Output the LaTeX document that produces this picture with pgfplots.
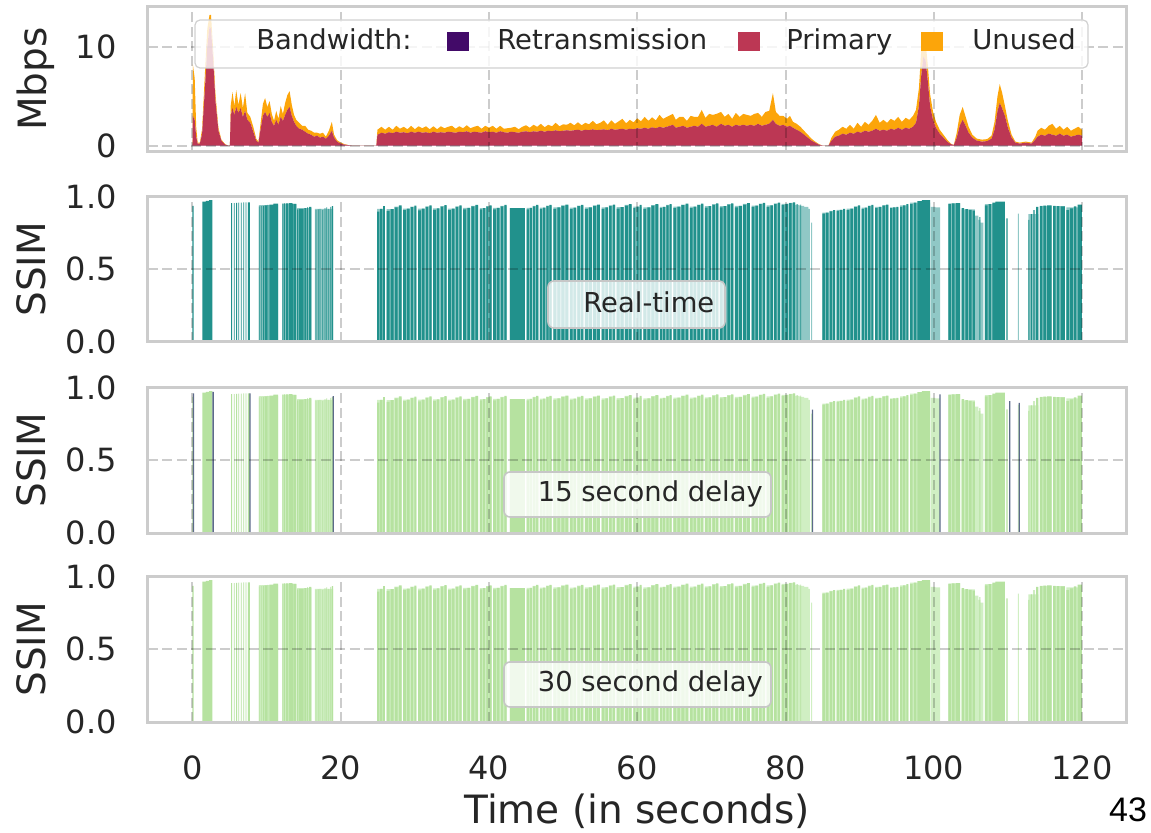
\documentclass[border=0pt]{standalone}
\usepackage{fontspec}
\setmainfont{DejaVu Sans}
\newfontfamily\slidefont{Liberation Sans}
\usepackage{pgfplots}
\usepackage{pgfplotstable}
\pgfplotsset{compat=1.18}

% inferno / viridis samples used by the figure
\definecolor{retx}{HTML}{420A68}
\definecolor{primary}{HTML}{BC3754}
\definecolor{unused}{HTML}{FCA50A}
\definecolor{rtteal}{HTML}{21918C}
\definecolor{rttealL}{RGB}{144,200,198}
\definecolor{dgreen}{RGB}{182,226,160}
\definecolor{dgreenL}{RGB}{208,239,195}
\definecolor{retxline}{RGB}{92,106,138}
\definecolor{txt}{HTML}{262626}
\definecolor{framegray}{HTML}{CCCCCC}

\newcommand\tickfont{\fontsize{16}{19}\selectfont}
\newcommand\labelfont{\fontsize{19.5}{23}\selectfont}
\newcommand\annofont{\fontsize{13.7}{16}\selectfont}

% bandwidth (Mbps): retransmission, primary and unused share
\pgfplotstableread{
t re pr un
0.0 0 0 0
0.05 0 3.0 5.2
0.3 0 2.6 4.2
0.5 0 0.9 1.0
0.7 0 0.2 0.1
1.0 0 0.2 0.1
1.3 0 1.2 0.5
1.7 0 6.0 1.6
2.0 0 10.0 1.8
2.3 0 12.0 1.2
2.5 0 11.8 1.4
2.8 0 8.5 1.0
3.1 0 4.5 0.7
3.5 0 1.5 0.3
3.9 0 0.5 0.1
4.4 0 0.1 0.05
4.8 0 0 0
5.05 0 0 0
5.15 0 3.0 1.0
5.4 0 3.8 1.6
5.65 0 3.1 0.9
5.9 0 3.9 1.7
6.2 0 3.3 0.8
6.5 0 3.8 1.5
6.8 0 2.9 0.9
7.1 0 3.5 1.8
7.4 0 2.6 0.7
7.8 0 2.3 0.6
8.2 0 1.4 0.5
8.6 0 0.5 0.2
8.9 0 0.3 0.1
9.2 0 1.7 0.6
9.5 0 3.0 1.2
9.8 0 3.4 1.4
10.1 0 2.9 1.0
10.4 0 3.3 1.2
10.7 0 2.4 0.8
11.0 0 2.0 0.5
11.3 0 2.6 0.9
11.6 0 2.1 0.6
11.9 0 2.9 1.1
12.2 0 2.5 0.7
12.5 0 3.1 1.2
12.8 0 3.6 1.5
13.1 0 3.9 1.6
13.4 0 3.0 1.1
13.7 0 2.4 0.7
14.0 0 2.0 0.6
14.4 0 1.7 0.6
14.8 0 1.6 0.4
15.2 0 1.4 0.6
15.6 0 1.2 0.4
16.0 0 1.1 0.4
16.4 0 0.9 0.4
16.8 0 1.0 0.3
17.2 0 0.8 0.4
17.6 0 0.9 0.4
18.0 0 0.7 0.2
18.4 0 1.0 0.5
18.8 0 1.5 0.9
19.1 0 0.8 0.3
19.5 0 0.4 0.15
20.0 0 0.2 0.1
20.5 0 0.1 0.05
21.0 0 0.05 0
21.5 0 0 0
24.8 0 0 0
24.95 0 1.1 0.5
25.5 0 1.3 0.6
26.0 0 1.2 0.4
26.5 0 1.35 0.55
27.0 0 1.25 0.35
27.5 0 1.4 0.6
28.0 0 1.3 0.4
28.5 0 1.35 0.55
29.0 0 1.25 0.4
29.5 0 1.4 0.6
30.0 0 1.3 0.35
30.5 0 1.4 0.55
31.0 0 1.3 0.45
31.5 0 1.35 0.6
32.0 0 1.25 0.4
32.5 0 1.4 0.55
33.0 0 1.3 0.35
33.5 0 1.35 0.6
34.0 0 1.3 0.45
34.5 0 1.4 0.5
35.0 0 1.35 0.65
35.5 0 1.3 0.4
36.0 0 1.4 0.55
36.5 0 1.35 0.4
37.0 0 1.45 0.6
37.5 0 1.3 0.45
38.0 0 1.4 0.5
38.5 0 1.35 0.65
39.0 0 1.3 0.4
39.5 0 1.45 0.55
40.0 0 1.35 0.45
40.5 0 1.4 0.6
41.0 0 1.3 0.4
41.5 0 1.45 0.55
42.0 0 1.35 0.35
42.5 0 1.3 0.45
43.0 0 1.4 0.4
43.5 0 1.35 0.55
44.0 0 1.3 0.35
44.5 0 1.4 0.5
45.0 0 1.45 0.6
45.5 0 1.35 0.45
46.0 0 1.45 0.65
46.5 0 1.4 0.5
47.0 0 1.5 0.7
47.5 0 1.4 0.45
48.0 0 1.5 0.6
48.5 0 1.45 0.5
49.0 0 1.55 0.75
49.5 0 1.45 0.5
50.0 0 1.5 0.65
50.5 0 1.55 0.55
51.0 0 1.5 0.8
51.5 0 1.55 0.5
52.0 0 1.6 0.75
52.5 0 1.5 0.55
53.0 0 1.6 0.7
53.5 0 1.55 0.6
54.0 0 1.65 0.85
54.5 0 1.55 0.6
55.0 0 1.6 0.7
55.5 0 1.65 0.9
56.0 0 1.55 0.55
56.5 0 1.7 0.85
57.0 0 1.6 0.6
57.5 0 1.65 0.8
58.0 0 1.7 1.0
58.5 0 1.6 0.65
59.0 0 1.7 0.9
59.5 0 1.65 0.7
60.0 0 1.75 1.0
60.5 0 1.7 0.75
61.0 0 1.8 1.1
61.5 0 1.7 0.8
62.0 0 1.85 1.0
62.5 0 1.75 0.8
63.0 0 1.9 1.2
63.5 0 1.8 0.9
64.0 0 1.9 1.0
64.8 0 2.1 1.1
65.2 0 1.8 0.8
65.7 0 1.9 1.0
66.2 0 2.0 0.9
66.7 0 1.8 0.7
67.2 0 1.9 1.1
67.7 0 2.0 0.9
68.2 0 1.9 1.0
68.7 0 2.2 1.4
69.2 0 1.9 0.9
69.7 0 2.0 1.2
70.2 0 2.1 1.0
70.7 0 1.9 1.3
71.3 0 2.2 1.2
71.8 0 2.0 0.9
72.3 0 2.1 1.1
72.8 0 1.9 0.8
73.3 0 2.1 1.2
73.8 0 2.0 0.9
74.3 0 2.1 1.1
74.8 0 2.0 1.1
75.3 0 2.1 0.9
75.8 0 2.0 1.2
76.3 0 2.2 1.1
76.8 0 2.0 0.9
77.3 0 2.1 1.3
77.8 0 2.2 1.3
78.3 0 2.6 2.7
78.7 0 2.2 1.2
79.2 0 2.0 1.0
79.7 0 2.1 0.9
80.2 0 1.9 0.8
80.6 0 2.0 1.0
81.0 0 1.8 0.6
81.5 0 1.6 0.6
82.0 0 1.4 0.5
82.5 0 1.1 0.4
83.0 0 0.8 0.3
83.5 0 0.5 0.2
84.0 0 0.3 0.1
84.5 0 0.1 0.05
85.0 0 0 0
85.8 0 0 0
86.2 0 0.5 0.3
86.7 0 0.9 0.5
87.2 0 1.0 0.6
87.7 0 1.2 0.7
88.2 0 1.1 0.6
88.7 0 1.3 0.8
89.2 0 1.2 0.5
89.7 0 1.4 0.9
90.2 0 1.3 0.6
90.7 0 1.5 0.9
91.2 0 1.4 0.7
91.7 0 1.5 1.0
92.2 0 1.7 1.4
92.7 0 1.5 0.8
93.2 0 1.6 1.0
93.7 0 1.5 0.8
94.2 0 1.7 1.0
94.7 0 1.6 0.9
95.2 0 1.8 1.1
95.7 0 1.6 0.8
96.2 0 1.8 1.0
96.7 0 1.7 0.9
97.2 0 1.9 1.1
97.6 0 2.3 1.3
98.0 0 4.0 1.8
98.3 0 7.0 2.5
98.6 0 9.0 2.0
98.9 0 8.6 1.8
99.2 0 6.5 1.6
99.5 0 4.0 1.2
99.9 0 2.6 0.8
100.3 0 1.8 0.6
100.8 0 1.2 0.4
101.3 0 0.8 0.3
101.8 0 0.4 0.2
102.3 0 0.15 0.05
102.7 0 0.05 0
103.1 0 0.8 0.5
103.5 0 2.0 1.1
103.9 0 2.6 1.3
104.3 0 2.0 0.9
104.7 0 1.3 0.6
105.2 0 0.8 0.3
105.8 0 0.5 0.2
106.5 0 0.4 0.2
107.2 0 0.45 0.2
107.8 0 0.7 0.3
108.2 0 1.6 0.8
108.6 0 3.5 1.5
108.9 0 4.3 1.9
109.2 0 3.8 1.6
109.6 0 3.0 1.0
110.0 0 1.8 0.7
110.5 0 0.8 0.3
111.0 0 0.3 0.1
111.6 0 0.2 0.1
112.4 0 0.3 0.1
113.2 0 0.2 0.1
113.7 0 0.6 0.3
114.0 0 0.9 0.6
114.5 0 1.1 0.7
115.0 0 1.0 0.6
115.5 0 1.2 0.8
116.0 0 1.1 1.1
116.5 0 1.0 0.7
117.0 0 1.2 0.8
117.5 0 1.0 0.6
118.0 0 1.1 0.8
118.5 0 0.9 0.6
119.0 0 1.0 0.7
119.5 0 1.1 0.8
120.0 0 1.0 0.6
}\bwtable

% SSIM of displayed frames: each row starts a run at the given SSIM,
% a row with -1 starts a run of missing frames
\pgfplotstableread[row sep=\\]{
t s\\
-1 -1\\
0.0 0.935\\ 0.15 -1\\
1.35 0.965\\ 1.8 0.97\\ 2.25 0.975\\ 2.7 -1\\
5.22 0.955\\ 5.34 -1\\ 5.58 0.955\\ 5.70 -1\\ 5.90 0.957\\ 6.02 -1\\ 6.18 0.958\\ 6.30 -1\\
6.52 0.958\\ 6.64 -1\\ 6.85 0.96\\ 6.97 -1\\ 7.16 0.96\\ 7.28 -1\\ 7.48 0.96\\ 7.74 -1\\
8.95 0.932\\ 9.07 -1\\ 9.22 0.934\\ 9.34 -1\\ 9.5 0.936\\ 9.62 -1\\ 9.72 0.939\\ 10.02 -1\\
10.12 0.942\\ 10.24 -1\\ 10.38 0.945\\ 10.9 0.951\\ 11.56 -1\\
12.14 0.951\\ 12.26 -1\\ 12.38 0.953\\ 12.5 -1\\ 12.62 0.953\\ 12.9 -1\\ 13.0 0.955\\ 13.45 0.951\\ 13.55 -1\\ 13.62 0.948\\ 14.03 -1\\
14.12 0.911\\ 14.3 -1\\ 14.4 0.915\\ 15.0 -1\\ 15.1 0.92\\ 15.35 -1\\ 15.45 0.925\\ 15.6 -1\\ 15.72 0.929\\ 16.05 -1\\
16.62 0.906\\ 16.72 -1\\ 16.93 0.911\\ 17.03 -1\\ 17.16 0.915\\ 17.26 -1\\ 17.52 0.906\\ 17.62 -1\\
17.83 0.92\\ 17.93 -1\\ 18.06 0.925\\ 18.16 -1\\ 18.33 0.915\\ 18.43 -1\\ 18.6 0.929\\ 18.7 -1\\ 18.8 0.934\\ 18.98 -1\\
24.91 0.896\\ 25.21 -1\\ 25.33 0.915\\ 25.61 -1\\ 25.73 0.934\\ 25.95 -1\\
26.18 0.901\\ 26.58 -1\\ 26.73 0.913\\ 27.13 -1\\ 27.28 0.926\\ 27.68 -1\\ 27.83 0.939\\ 28.2 -1\\
28.43 0.906\\ 28.78 -1\\ 28.93 0.916\\ 29.28 -1\\ 29.43 0.927\\ 29.78 -1\\ 29.93 0.937\\ 30.2 -1\\
30.45 0.904\\ 30.8 -1\\ 30.95 0.916\\ 31.3 -1\\ 31.45 0.928\\ 31.8 -1\\ 31.95 0.939\\ 32.25 -1\\
32.47 0.908\\ 32.82 -1\\ 32.97 0.919\\ 33.32 -1\\ 33.47 0.93\\ 33.82 -1\\ 33.97 0.941\\ 34.27 -1\\
34.5 0.906\\ 34.85 -1\\ 35.0 0.917\\ 35.35 -1\\ 35.5 0.928\\ 35.85 -1\\ 36.0 0.939\\ 36.3 -1\\
36.52 0.911\\ 36.92 -1\\ 37.07 0.921\\ 37.47 -1\\ 37.62 0.932\\ 38.02 -1\\ 38.17 0.942\\ 38.55 -1\\
38.77 0.911\\ 39.07 -1\\ 39.2 0.92\\ 39.5 -1\\ 39.63 0.93\\ 39.93 -1\\ 40.06 0.939\\ 40.35 -1\\
40.57 0.911\\ 40.92 -1\\ 41.07 0.921\\ 41.42 -1\\ 41.57 0.932\\ 41.92 -1\\ 42.07 0.942\\ 42.37 -1\\
42.82 0.92\\ 44.85 -1\\
45.07 0.911\\ 45.37 -1\\ 45.5 0.921\\ 45.8 -1\\ 45.93 0.932\\ 46.23 -1\\ 46.36 0.942\\ 46.65 -1\\
46.87 0.915\\ 47.17 -1\\ 47.3 0.924\\ 47.6 -1\\ 47.73 0.934\\ 48.03 -1\\ 48.16 0.943\\ 48.45 -1\\
48.67 0.915\\ 49.07 -1\\ 49.22 0.925\\ 49.62 -1\\ 49.77 0.935\\ 50.17 -1\\ 50.32 0.945\\ 50.7 -1\\
50.92 0.913\\ 51.27 -1\\ 51.42 0.923\\ 51.77 -1\\ 51.92 0.933\\ 52.27 -1\\ 52.42 0.943\\ 52.72 -1\\
52.94 0.915\\ 53.34 -1\\ 53.49 0.925\\ 53.89 -1\\ 54.04 0.935\\ 54.44 -1\\ 54.59 0.945\\ 54.97 -1\\
55.2 0.915\\ 55.55 -1\\ 55.7 0.925\\ 56.05 -1\\ 56.2 0.935\\ 56.55 -1\\ 56.7 0.945\\ 57.0 -1\\
57.22 0.917\\ 57.62 -1\\ 57.77 0.927\\ 58.17 -1\\ 58.32 0.938\\ 58.72 -1\\ 58.87 0.948\\ 59.24 -1\\
59.46 0.92\\ 59.76 -1\\ 59.9 0.931\\ 60.2 -1\\ 60.33 0.942\\ 60.59 -1\\
60.81 0.915\\ 61.21 -1\\ 61.36 0.926\\ 61.76 -1\\ 61.91 0.937\\ 62.31 -1\\ 62.46 0.948\\ 62.84 -1\\
63.06 0.92\\ 63.36 -1\\ 63.49 0.929\\ 63.79 -1\\ 63.92 0.939\\ 64.22 -1\\ 64.35 0.948\\ 64.64 -1\\
64.86 0.92\\ 65.26 -1\\ 65.41 0.93\\ 65.81 -1\\ 65.96 0.941\\ 66.36 -1\\ 66.51 0.951\\ 66.89 -1\\
67.11 0.92\\ 67.46 -1\\ 67.61 0.93\\ 67.96 -1\\ 68.11 0.941\\ 68.46 -1\\ 68.61 0.951\\ 68.91 -1\\
69.13 0.923\\ 69.48 -1\\ 69.63 0.933\\ 69.98 -1\\ 70.13 0.943\\ 70.48 -1\\ 70.63 0.953\\ 70.93 -1\\
71.16 0.925\\ 71.51 -1\\ 71.66 0.934\\ 72.01 -1\\ 72.16 0.944\\ 72.51 -1\\ 72.66 0.953\\ 72.96 -1\\
73.18 0.925\\ 73.58 -1\\ 73.73 0.935\\ 74.13 -1\\ 74.28 0.945\\ 74.68 -1\\ 74.83 0.955\\ 75.2 -1\\
75.44 0.929\\ 75.79 -1\\ 75.94 0.938\\ 76.29 -1\\ 76.44 0.947\\ 76.79 -1\\ 76.94 0.956\\ 77.24 -1\\
77.46 0.929\\ 77.81 -1\\ 77.96 0.939\\ 78.31 -1\\ 78.46 0.948\\ 78.81 -1\\ 78.96 0.958\\ 79.26 -1\\
79.49 0.943\\ 79.84 -1\\ 79.99 0.949\\ 80.34 -1\\ 80.49 0.955\\ 80.84 -1\\ 80.99 0.96\\ 81.28 -1\\
81.5 0.948\\ 81.62 -1\\ 82.0 0.945\\ 82.1 -1\\
84.97 0.882\\ 85.3 -1\\ 85.45 0.89\\ 85.8 -1\\ 85.95 0.898\\ 86.3 -1\\ 86.42 0.906\\ 86.68 -1\\
86.9 0.901\\ 87.2 -1\\ 87.33 0.908\\ 87.63 -1\\ 87.76 0.915\\ 88.03 -1\\
88.26 0.906\\ 88.61 -1\\ 88.76 0.917\\ 89.11 -1\\ 89.26 0.928\\ 89.61 -1\\ 89.76 0.939\\ 90.06 -1\\
90.28 0.915\\ 90.58 -1\\ 90.71 0.924\\ 91.01 -1\\ 91.14 0.933\\ 91.44 -1\\ 91.57 0.942\\ 91.85 -1\\
92.08 0.92\\ 92.43 -1\\ 92.58 0.928\\ 92.93 -1\\ 93.08 0.937\\ 93.43 -1\\ 93.58 0.945\\ 93.87 -1\\
94.1 0.92\\ 94.4 -1\\ 94.53 0.925\\ 94.83 -1\\ 94.96 0.929\\ 95.23 -1\\
95.45 0.929\\ 95.75 -1\\ 95.88 0.939\\ 96.18 -1\\ 96.31 0.948\\ 96.58 -1\\
96.8 0.948\\ 97.15 -1\\ 97.3 0.958\\ 97.65 -1\\ 97.8 0.968\\ 98.4 0.975\\ 99.5 -1\\
101.96 0.948\\ 102.3 -1\\ 102.45 0.952\\ 102.8 -1\\ 102.95 0.955\\ 103.54 -1\\
103.76 0.92\\ 104.1 -1\\ 104.25 0.914\\ 104.6 -1\\ 104.75 0.908\\ 105.1 -1\\ 105.25 0.903\\ 105.56 -1\\
106.15 0.859\\ 106.27 -1\\
106.9 0.939\\ 107.25 -1\\ 107.4 0.948\\ 107.75 -1\\ 107.9 0.958\\ 108.3 0.965\\ 109.6 -1\\
109.8 0.849\\ 109.95 -1\\
112.77 0.84\\ 112.9 -1\\ 113.1 0.878\\ 113.22 -1\\ 113.45 0.906\\ 113.6 -1\\ 113.8 0.929\\ 114.1 -1\\
114.3 0.934\\ 114.65 -1\\ 114.8 0.937\\ 115.15 -1\\ 115.3 0.939\\ 115.9 -1\\
116.1 0.936\\ 116.45 -1\\ 116.6 0.934\\ 116.95 -1\\ 117.1 0.932\\ 117.7 -1\\
117.9 0.906\\ 118.25 -1\\ 118.4 0.918\\ 118.75 -1\\ 118.9 0.932\\ 119.25 -1\\ 119.4 0.945\\ 119.97 -1\\
}\ssimframes

% lighter, partly decoded frames around the runs above
\pgfplotstableread[row sep=\\]{
t s\\
-1 -1\\
8.95 0.94\\ 11.56 -1\\
12.14 0.951\\ 14.03 -1\\
14.12 0.92\\ 16.05 -1\\
16.5 0.915\\ 18.98 -1\\
24.91 0.915\\ 25.95 -1\\
26.18 0.913\\ 27.16 -1\\ 27.25 0.93\\ 28.2 -1\\
28.43 0.916\\ 29.31 -1\\ 29.4 0.931\\ 30.2 -1\\
30.45 0.916\\ 31.33 -1\\ 31.42 0.932\\ 32.25 -1\\
32.47 0.919\\ 33.35 -1\\ 33.44 0.934\\ 34.27 -1\\
34.5 0.917\\ 35.38 -1\\ 35.47 0.932\\ 36.3 -1\\
36.52 0.921\\ 37.5 -1\\ 37.59 0.936\\ 38.55 -1\\
38.77 0.92\\ 39.53 -1\\ 39.6 0.934\\ 40.35 -1\\
40.57 0.921\\ 41.45 -1\\ 41.54 0.936\\ 42.37 -1\\
42.82 0.92\\ 44.85 -1\\
45.07 0.921\\ 45.83 -1\\ 45.9 0.936\\ 46.65 -1\\
46.87 0.924\\ 47.63 -1\\ 47.7 0.938\\ 48.45 -1\\
48.67 0.925\\ 49.65 -1\\ 49.74 0.939\\ 50.7 -1\\
50.92 0.923\\ 51.8 -1\\ 51.89 0.937\\ 52.72 -1\\
52.94 0.925\\ 53.92 -1\\ 54.01 0.939\\ 54.97 -1\\
55.2 0.925\\ 56.08 -1\\ 56.17 0.939\\ 57.0 -1\\
57.22 0.927\\ 58.2 -1\\ 58.29 0.942\\ 59.24 -1\\
59.46 0.931\\ 60.59 -1\\
60.81 0.926\\ 61.79 -1\\ 61.88 0.941\\ 62.84 -1\\
63.06 0.929\\ 63.82 -1\\ 63.89 0.943\\ 64.64 -1\\
64.86 0.93\\ 65.84 -1\\ 65.93 0.945\\ 66.89 -1\\
67.11 0.93\\ 67.99 -1\\ 68.08 0.945\\ 68.91 -1\\
69.13 0.933\\ 70.01 -1\\ 70.1 0.947\\ 70.93 -1\\
71.16 0.934\\ 72.04 -1\\ 72.13 0.948\\ 72.96 -1\\
73.18 0.935\\ 74.16 -1\\ 74.25 0.949\\ 75.2 -1\\
75.44 0.938\\ 76.32 -1\\ 76.41 0.951\\ 77.24 -1\\
77.46 0.939\\ 78.34 -1\\ 78.43 0.952\\ 79.26 -1\\
79.49 0.949\\ 80.37 -1\\ 80.46 0.957\\ 81.28 -1\\
81.3 0.943\\ 81.9 0.936\\ 82.5 0.929\\ 83.1 0.915\\ 83.3 -1\\
83.45 0.821\\ 83.6 -1\\
84.97 0.89\\ 85.83 -1\\ 85.92 0.902\\ 86.68 -1\\
86.9 0.908\\ 88.03 -1\\
88.26 0.917\\ 89.14 -1\\ 89.23 0.932\\ 90.06 -1\\
90.28 0.924\\ 91.04 -1\\ 91.11 0.937\\ 91.85 -1\\
92.08 0.928\\ 92.96 -1\\ 93.05 0.941\\ 93.87 -1\\
94.1 0.925\\ 95.23 -1\\
95.45 0.939\\ 96.58 -1\\
96.8 0.958\\ 99.5 -1\\
99.6 0.929\\ 100.2 0.925\\ 100.85 -1\\
101.96 0.952\\ 103.54 -1\\
103.76 0.911\\ 105.56 0.868\\ 106.0 0.84\\ 106.3 0.821\\ 106.68 -1\\
106.9 0.948\\ 109.6 -1\\
111.35 0.882\\ 111.48 -1\\
112.77 0.878\\ 114.1 -1\\
114.3 0.936\\ 115.9 -1\\
116.1 0.934\\ 117.7 -1\\
117.9 0.925\\ 119.97 -1\\
}\ssimspans

% frames only recovered through retransmission (15 s delay)
\pgfplotstableread[row sep=\\]{
t s\\
-1 -1\\
0.05 0.96\\ 0.23 -1\\
2.7 0.97\\ 2.88 -1\\
7.66 0.96\\ 7.84 -1\\
18.9 0.94\\ 19.08 -1\\
83.55 0.848\\ 83.73 -1\\
100.75 0.952\\ 100.93 -1\\
110.15 0.906\\ 110.33 -1\\
111.45 0.894\\ 111.63 -1\\
}\retxframes

\pgfplotsset{
  panel/.style={
    at={(74pt,#1)}, anchor=south west, scale only axis,
    width=489.25pt, height=72.75pt,
    xmin=-6, xmax=126, enlargelimits=false,
    xtick={0,20,...,120}, xticklabels={},
    axis on top, grid=major,
    major grid style={draw=black, draw opacity=0.2, line width=1pt, dash pattern=on 5pt off 2.2pt},
    axis line style={draw=framegray, line width=1.5pt},
    major tick length=0pt,
    tick label style={font=\tickfont, text=txt},
    yticklabel style={anchor=east, inner sep=0pt, xshift=-15.5pt},
    xticklabel style={anchor=north, inner sep=0pt, yshift=-16.5pt},
    ylabel style={font=\labelfont, text=txt, at={(axis description cs:-0.1349,0.5)}, anchor=north, inner sep=0pt},
    xlabel style={font=\labelfont, text=txt, at={(axis description cs:0.5,-0.49)}, anchor=north, inner sep=0pt},
  },
  ssim/.style={
    panel=#1, ymin=0, ymax=1,
    ytick={0,0.5,1}, yticklabels={0.0,0.5,1.0},
    ylabel={SSIM},
  },
}

\begin{document}
\begin{tikzpicture}
\useasboundingbox (0,0) rectangle (575.5pt,416pt);

% bandwidth
\begin{axis}[panel=340pt, ymin=-0.65, ymax=14.05,
  ytick={0,10}, yticklabels={0,10}, ylabel={Mbps}, stack plots=y]
  \addplot[draw=none, fill=retx] table[x=t, y=re] {\bwtable} \closedcycle;
  \addplot[draw=none, fill=primary] table[x=t, y=pr] {\bwtable} \closedcycle;
  \addplot[draw=none, fill=unused] table[x=t, y=un] {\bwtable} \closedcycle;
\end{axis}

% real-time playback
\begin{axis}[ssim=245pt]
  \addplot[const plot, draw=none, fill=rttealL] table[x=t, y=s] {\ssimspans};
  \addplot[const plot, draw=none, fill=rtteal] table[x=t, y=s] {\ssimframes};
\end{axis}

% 15 second delay
\begin{axis}[ssim=149.5pt]
  \addplot[const plot, draw=none, fill=dgreenL] table[x=t, y=s] {\ssimspans};
  \addplot[const plot, draw=none, fill=dgreen] table[x=t, y=s] {\ssimframes};
  \addplot[const plot, draw=none, fill=retxline] table[x=t, y=s] {\retxframes};
\end{axis}

% 30 second delay
\begin{axis}[ssim=55pt, xticklabels={0,20,40,60,80,100,120},
  xlabel={Time (in seconds)}]
  \addplot[const plot, draw=none, fill=dgreenL] table[x=t, y=s] {\ssimspans};
  \addplot[const plot, draw=none, fill=dgreen] table[x=t, y=s] {\ssimframes};
\end{axis}

% legend and panel captions, in picture units (origin top left)
\begin{scope}[shift={(0pt,416pt)}, x=0.5pt, y=-0.5pt]
  \draw[draw=black!18, line width=0.6pt, fill=white, fill opacity=0.8, rounded corners=2.5pt]
    (195,20) rectangle (1088,68);
  \begin{scope}[every node/.style={anchor=base west, inner sep=0pt, font=\annofont, text=txt}]
    \node at (256,50) {Bandwidth:};
    \fill[retx] (447,32) rectangle (469,51);
    \node at (497,50) {Retransmission};
    \fill[primary] (738,32) rectangle (760,51);
    \node at (786,50) {Primary};
    \fill[unused] (921,32) rectangle (943,51);
    \node at (972,50) {Unused};
  \end{scope}

  \begin{scope}[every node/.style={anchor=base west, inner sep=0pt, font=\annofont, text=txt}]
    \draw[draw=black!22, line width=0.8pt, fill=white, fill opacity=0.8, rounded corners=3pt]
      (548,281) rectangle (725,328);
    \node at (583,312.3) {Real-time};
    \draw[draw=black!22, line width=0.8pt, fill=white, fill opacity=0.8, rounded corners=3pt]
      (504,472) rectangle (771,517);
    \node at (537.5,501.7) {15 second delay};
    \draw[draw=black!22, line width=0.8pt, fill=white, fill opacity=0.8, rounded corners=3pt]
      (504,662) rectangle (771,707);
    \node at (537.5,691.7) {30 second delay};
  \end{scope}

  \node[font=\slidefont\fontsize{17}{20}\selectfont, text=black, inner sep=0pt] at (1128,810) {43};
\end{scope}
\end{tikzpicture}
\end{document}
